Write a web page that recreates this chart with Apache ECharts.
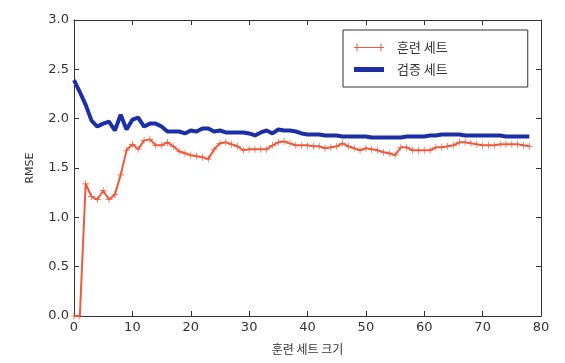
<!DOCTYPE html>
<html><head><meta charset="utf-8">
<script src="https://cdn.jsdelivr.net/npm/echarts@6/dist/echarts.min.js"></script>
<style>html,body{margin:0;padding:0;background:#fff}#c{width:565px;height:363px}</style>
</head><body><div id="c"></div>
<script>
const xTicks = [0,10,20,30,40,50,60,70,80];
const yTicks = [0.0,0.5,1.0,1.5,2.0,2.5,3.0];
const trainName = '훈련 세트';
const valName = '검증 세트';
const trainRMSE = [0,0,1.34,1.21,1.18,1.27,1.18,1.23,1.43,1.68,
  1.74,1.69,1.78,1.79,1.73,1.73,1.76,1.72,1.67,1.65,
  1.63,1.62,1.61,1.59,1.69,1.75,1.76,1.74,1.72,1.68,
  1.69,1.69,1.69,1.69,1.73,1.76,1.77,1.75,1.73,1.73,
  1.73,1.72,1.72,1.70,1.71,1.72,1.75,1.72,1.70,1.68,
  1.70,1.69,1.68,1.66,1.65,1.63,1.71,1.71,1.68,1.68,
  1.68,1.68,1.71,1.71,1.72,1.73,1.76,1.76,1.75,1.74,
  1.73,1.73,1.73,1.74,1.74,1.74,1.74,1.73,1.72];
const valRMSE = [2.39,2.27,2.14,1.98,1.92,1.95,1.97,1.88,2.04,1.89,
  1.99,2.01,1.92,1.95,1.95,1.92,1.87,1.87,1.87,1.85,
  1.88,1.87,1.90,1.90,1.87,1.88,1.86,1.86,1.86,1.86,
  1.85,1.83,1.86,1.88,1.85,1.89,1.88,1.88,1.87,1.85,
  1.84,1.84,1.84,1.83,1.83,1.83,1.82,1.82,1.82,1.82,
  1.82,1.81,1.81,1.81,1.81,1.81,1.81,1.82,1.82,1.82,
  1.82,1.83,1.83,1.84,1.84,1.84,1.84,1.83,1.83,1.83,
  1.83,1.83,1.83,1.83,1.82,1.82,1.82,1.82,1.82];

const font = 'DejaVu Sans, "Noto Sans CJK KR", sans-serif';
const kfont = '"Noto Sans CJK KR", sans-serif';
const plus = 'path://M0,4.5H10V5.5H0Z M4.5,0H5.5V10H4.5Z';
const legPlus = 'path://M0,4.4H30V5.6H0Z M2.5,1H3.5V9H2.5Z M26.5,1H27.5V9H26.5Z M0,4.4H0Z';
const axisCommon = {
  min: 0, axisLine: {show: true, onZero: false, lineStyle: {color: '#333', width: 1}},
  splitLine: {show: false},
  axisTick: {show: true, inside: true, length: 5, lineStyle: {color: '#333'}}
};
const chart = echarts.init(document.getElementById('c'), null, {renderer: 'canvas'});
chart.setOption({
  animation: false,
  backgroundColor: '#fff',
  grid: {left: 74, right: 24, top: 20, bottom: 47},
  legend: {
    left: 343, top: 30, width: 189, orient: 'vertical', itemGap: 9,
    padding: [11, 80, 11, 11],
    borderColor: '#333', borderWidth: 1, borderRadius: 0,
    itemWidth: 30, itemHeight: 10, itemStyle: {borderWidth: 0},
    textStyle: {fontFamily: kfont, fontSize: 13, color: '#333', padding: [0,0,0,8]},
    data: [
      {name: trainName, icon: legPlus},
      {name: valName, icon: 'path://M0,2.5H30V7.5H0Z'}
    ]
  },
  xAxis: [
    Object.assign({}, axisCommon, {type: 'value', max: xTicks[xTicks.length-1], interval: 10,
      name: '훈련 세트 크기', nameLocation: 'middle', nameGap: 27,
      nameTextStyle: {fontFamily: kfont, fontSize: 12, color: '#333'},
      axisLabel: {fontFamily: font, fontSize: 13, color: '#333', margin: 5}}),
    Object.assign({}, axisCommon, {type: 'value', position: 'top', max: 80, interval: 10,
      axisLabel: {show: false}})
  ],
  yAxis: [
    Object.assign({}, axisCommon, {type: 'value', max: yTicks[yTicks.length-1], interval: 0.5,
      name: 'RMSE', nameLocation: 'middle', nameGap: 38, nameRotate: 90,
      nameTextStyle: {fontFamily: font, fontSize: 11, color: '#333'},
      axisLabel: {fontFamily: font, fontSize: 13, color: '#333', margin: 5,
        formatter: v => v.toFixed(1)}}),
    Object.assign({}, axisCommon, {type: 'value', position: 'right', max: 3.0, interval: 0.5,
      axisLabel: {show: false}})
  ],
  series: [
    {
      name: trainName, type: 'line', xAxisIndex: 0, yAxisIndex: 0,
      data: trainRMSE.map((v, i) => [i, v]),
      symbol: plus, symbolSize: 7, showSymbol: true,
      lineStyle: {color: '#ee5a3c', width: 2},
      itemStyle: {color: '#ee5a3c'},
      z: 3
    },
    {
      name: valName, type: 'line', xAxisIndex: 0, yAxisIndex: 0,
      data: valRMSE.map((v, i) => [i, v]),
      symbol: 'none',
      lineStyle: {color: '#1c2fa5', width: 4},
      itemStyle: {color: '#1c2fa5'},
      z: 2
    }
  ]
});
</script></body></html>
